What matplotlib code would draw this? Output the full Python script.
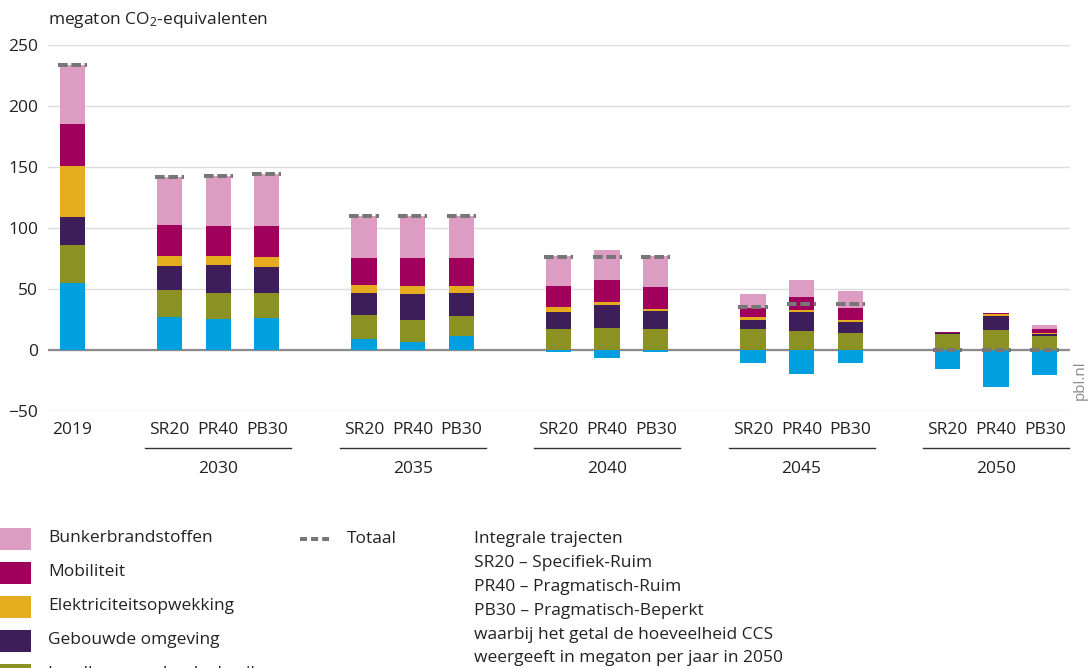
import matplotlib
matplotlib.use("Agg")
import matplotlib.pyplot as plt
import matplotlib.transforms as mtransforms
from matplotlib.patches import Rectangle
from matplotlib.lines import Line2D
import numpy as np

plt.rcParams["font.family"] = ["Open Sans", "DejaVu Sans"]
plt.rcParams["mathtext.fontset"] = "custom"
plt.rcParams["mathtext.rm"] = "Open Sans"
plt.rcParams["mathtext.it"] = "Open Sans"

# Bars: 2019 followed by three trajectories per target year
years = ["2030", "2035", "2040", "2045", "2050"]
scenarios = ["SR20", "PR40", "PB30"]
bar_labels = ["2019"] + scenarios * len(years)

# Sector emissions (megaton CO2-eq), one value per bar, bottom to top
industrie = [55, 27.5, 25.5, 26.5, 9.5, 7, 11.5, -1.5, -6.5, -1.5,
             -10.5, -19.5, -10.5, -15, -30.5, -20.5]
landbouw = [31, 21.5, 21, 20.5, 19.5, 18, 16.5, 17.5, 18.5, 17,
            17.5, 15.5, 14, 13.5, 16.5, 11.5]
gebouwde_omgeving = [23.5, 20, 23, 21.5, 17.5, 21, 18.5, 14, 18.5, 15,
                     7.5, 16, 9.5, 0.5, 11.5, 2]
elektriciteit = [41.5, 8, 7.5, 7.5, 7, 6.5, 6, 4, 2.5, 2,
                 2, 1.5, 1.5, 0.3, 2, 0.5]
mobiliteit = [34, 25.5, 25, 25.5, 22, 23, 23, 17, 18, 18,
              7.5, 10.5, 9.5, 0.7, 0.5, 3]
bunkerbrandstoffen = [49, 39, 41, 42.5, 34.5, 34.5, 34.5, 25, 25, 25.5,
                      11.5, 14, 14, 0, 0, 3.5]

series = [
    ("Industrie", industrie, "#009fdf"),
    ("Landbouw en landgebruik", landbouw, "#8c9124"),
    ("Gebouwde omgeving", gebouwde_omgeving, "#3d1d5a"),
    ("Elektriciteitsopwekking", elektriciteit, "#e6ac20"),
    ("Mobiliteit", mobiliteit, "#a0005c"),
    ("Bunkerbrandstoffen", bunkerbrandstoffen, "#dd9dc3"),
]

# x positions: 2019 alone, then groups of three with a one-slot gap
x = [0.0]
for g in range(len(years)):
    start = 2 + 4 * g
    x += [start, start + 1, start + 2]
x = np.array(x, dtype=float)
group_centers = [3 + 4 * g for g in range(len(years))]

fig = plt.figure(figsize=(10.92, 6.68), dpi=100)
ax = fig.add_axes([48 / 1092, 1 - 411.3 / 668, (1070 - 48) / 1092, (411.3 - 45) / 668])

bar_w = 0.52
pos_base = np.zeros(len(x))
neg_base = np.zeros(len(x))
for name, vals, color in series:
    v = np.array(vals, dtype=float)
    pos = np.where(v > 0, v, 0)
    neg = np.where(v < 0, v, 0)
    ax.bar(x, pos, bottom=pos_base, width=bar_w, color=color, linewidth=0, zorder=3)
    ax.bar(x, neg, bottom=neg_base, width=bar_w, color=color, linewidth=0, zorder=3)
    pos_base += pos
    neg_base += neg

totaal = pos_base + neg_base
ax.hlines(totaal, x - 0.3, x + 0.3, colors="#777777", linewidth=2.9,
          linestyles=(0, (2.4, 0.9)), zorder=5)

ax.set_xlim(-0.5, 20.52)
ax.set_ylim(-50, 250)
ax.set_yticks(range(-50, 251, 50))
ax.grid(axis="y", color="#dcdcdc", linewidth=1.0, zorder=0)
ax.axhline(0, color="#8a8a8a", linewidth=1.6, zorder=2)
for s in ax.spines.values():
    s.set_visible(False)
ax.tick_params(axis="both", length=0, labelsize=12.5, colors="#222222")
ax.tick_params(axis="y", pad=7)
ax.tick_params(axis="x", pad=8)
ax.set_xticks(x)
ax.set_xticklabels(bar_labels)
for lbl in ax.get_yticklabels():
    lbl.set_horizontalalignment("right")

# Year brackets below the scenario labels
trans = mtransforms.blended_transform_factory(ax.transData, ax.transAxes)
for c, yr in zip(group_centers, years):
    ax.plot([c - 1.5, c + 1.5], [-0.100, -0.100], transform=trans, color="#333333",
            linewidth=1.0, clip_on=False)
    ax.text(c, -0.157, yr, transform=trans, ha="center", va="center",
            fontsize=12.5, color="#222222")

fig.text(48 / 1092, 1 - 20 / 668, "megaton CO$_2$-equivalenten", ha="left", va="center",
         fontsize=12.5, color="#222222")
fig.text(1080 / 1092, 1 - 380 / 668, "pbl.nl", rotation=90, ha="center", va="center",
         fontsize=11, color="#8a8a8a")

# Legend, drawn in figure pixels
def fx(px):
    return px / 1092

def fy(py):
    return 1 - py / 668

legend_rows = list(reversed(series))
for i, (name, vals, color) in enumerate(legend_rows):
    yc = 538.5 + i * 34.0
    fig.add_artist(Rectangle((fx(0), fy(yc + 11)), 31 / 1092, 22 / 668,
                             transform=fig.transFigure, facecolor=color, edgecolor="none"))
    fig.text(fx(48), fy(yc), name, ha="left", va="center", fontsize=12.5, color="#222222")

fig.add_artist(Line2D([fx(300), fx(329)], [fy(539), fy(539)], transform=fig.transFigure,
                      color="#777777", linewidth=2.9, linestyle=(0, (1.75, 1.0))))
fig.text(fx(347), fy(539), "Totaal", ha="left", va="center", fontsize=12.5, color="#222222")

notes = [
    "Integrale trajecten",
    "SR20 \u2013 Specifiek-Ruim",
    "PR40 \u2013 Pragmatisch-Ruim",
    "PB30 \u2013 Pragmatisch-Beperkt",
    "waarbij het getal de hoeveelheid CCS",
    "weergeeft in megaton per jaar in 2050",
]
for i, t in enumerate(notes):
    fig.text(fx(474), fy(539 + i * 23.9), t, ha="left", va="center", fontsize=12.5,
             color="#222222")

fig.savefig("out.png", dpi=100)
